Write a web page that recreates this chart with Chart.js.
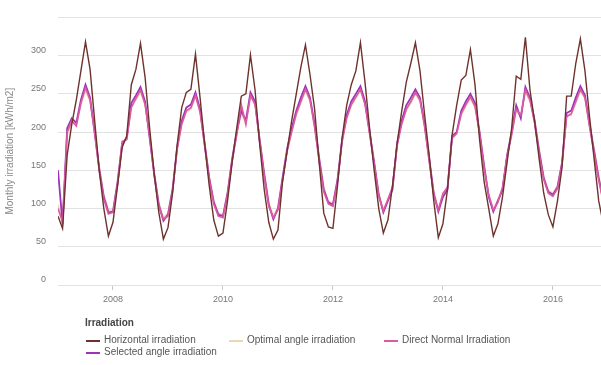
<!DOCTYPE html>
<html>
<head>
<meta charset="utf-8">
<script src="https://cdn.jsdelivr.net/npm/chart.js@4.4.1/dist/chart.umd.min.js"></script>
<style>
  body { margin: 0; background: #fff; }
  #wrap { position: relative; width: 601px; height: 365px; }
  #legend { position: absolute; left: 0; top: 0; width: 601px; height: 365px; pointer-events: none;
    font-family: "Liberation Sans", Arial, sans-serif; font-size: 10px; color: #555; }
  #legend div { position: absolute; white-space: nowrap; }
  #legend .sw { position: absolute; height: 2px; width: 14px; }
  #legend .ttl { font-weight: bold; color: #444; }
</style>
</head>
<body>
<div id="wrap">
  <canvas id="chart" width="601" height="365"></canvas>
  <div id="legend"></div>
</div>
<script>
var years = [2007, 2008, 2009, 2010, 2011, 2012, 2013, 2014, 2015, 2016];
var monthNames = ["Jan", "Feb", "Mar", "Apr", "May", "Jun", "Jul", "Aug", "Sep", "Oct", "Nov", "Dec"];

// one row per year, Jan..Dec, kWh/m2
var horizontal = [
  90, 74, 170, 210, 242, 280, 318, 282, 215, 150, 100, 64,
  82, 130, 180, 195, 262, 282, 316, 272, 205, 145, 95, 60,
  75, 120, 183, 232, 252, 256, 302, 245, 185, 130, 85, 64,
  68, 110, 160, 205, 247, 250, 301, 255, 185, 125, 82, 60,
  72, 135, 175, 215, 250, 285, 314, 275, 230, 160, 94, 76,
  74, 130, 192, 235, 262, 280, 317, 265, 205, 150, 100, 68,
  85, 130, 185, 227, 265, 290, 317, 280, 223, 170, 110, 62,
  80, 125, 196, 235, 268, 274, 308, 262, 190, 135, 100, 64,
  80, 115, 160, 205, 273, 269, 324, 255, 215, 165, 120, 92,
  76, 110, 154, 247, 247, 290, 322, 280, 220, 165, 110, 80
];
var optimal = [
  105, 84, 196, 212, 210, 236, 255, 240, 202, 155, 118, 98,
  98, 130, 182, 195, 235, 242, 252, 238, 196, 148, 108, 88,
  94, 126, 176, 212, 226, 230, 246, 228, 188, 142, 110, 94,
  92, 122, 163, 198, 224, 212, 246, 238, 192, 148, 108, 90,
  102, 138, 176, 202, 222, 238, 254, 240, 212, 168, 128, 110,
  107, 136, 186, 220, 234, 244, 254, 238, 202, 162, 120, 98,
  112, 127, 183, 212, 228, 238, 250, 240, 212, 168, 122, 99,
  117, 127, 193, 198, 222, 234, 244, 232, 202, 158, 118, 98,
  112, 126, 168, 198, 228, 220, 252, 240, 217, 178, 142, 124,
  120, 130, 160, 222, 222, 238, 254, 244, 212, 178, 142, 113
];
var directNormal = [
  100, 82, 200, 215, 208, 238, 258, 242, 198, 150, 112, 93,
  95, 132, 188, 190, 232, 244, 255, 236, 195, 143, 103, 86,
  90, 122, 178, 210, 228, 232, 248, 226, 182, 138, 106, 90,
  88, 118, 162, 196, 236, 210, 248, 236, 188, 143, 103, 88,
  98, 137, 175, 200, 224, 240, 256, 242, 206, 162, 122, 106,
  103, 135, 188, 218, 236, 246, 256, 236, 198, 158, 116, 97,
  112, 128, 182, 210, 230, 240, 252, 242, 207, 162, 118, 98,
  120, 128, 192, 198, 224, 236, 246, 234, 198, 153, 118, 98,
  108, 128, 168, 196, 230, 222, 255, 242, 212, 172, 138, 120,
  116, 126, 158, 220, 224, 240, 256, 245, 207, 172, 137, 108
];
var selected = [
  150, 80, 205, 218, 212, 242, 262, 245, 200, 152, 115, 95,
  96, 135, 185, 192, 238, 248, 259, 240, 192, 145, 105, 84,
  92, 125, 180, 215, 232, 236, 252, 230, 185, 140, 108, 92,
  90, 120, 165, 200, 228, 215, 252, 240, 190, 145, 105, 86,
  100, 140, 178, 205, 228, 245, 260, 245, 210, 165, 125, 108,
  105, 138, 190, 222, 240, 250, 260, 240, 200, 160, 118, 95,
  110, 125, 185, 215, 235, 245, 256, 245, 210, 165, 120, 96,
  115, 125, 195, 200, 228, 240, 250, 238, 200, 155, 115, 96,
  110, 124, 170, 200, 235, 218, 259, 245, 215, 175, 140, 122,
  118, 128, 160, 225, 228, 245, 260, 248, 210, 175, 140, 110
];

var tickLabels = ["2008", "2010", "2012", "2014", "2016"];
var yTicks = [0, 50, 100, 150, 200, 250, 300];

var colors = {
  horizontal: "#6e322c",
  optimal: "#ecd6b4",
  directNormal: "#dc5aa0",
  selected: "#9b34b8"
};

// month labels, "2007-01" ... "2016-12"
var months = [];
years.forEach(function (y) {
  monthNames.forEach(function (m, i) { months.push(y + "-" + (i < 9 ? "0" : "") + (i + 1)); });
});

function points(values) {
  return values.map(function (v, i) { return { x: i, y: v }; });
}
function monthIndex(label) {
  return months.indexOf(label + "-01");
}

var ctx = document.getElementById("chart");
var font = { family: "'Liberation Sans', Arial, sans-serif", size: 9 };

var chart = new Chart(ctx, {
  type: "line",
  data: {
    datasets: [
      { label: "Horizontal irradiation", data: points(horizontal), borderColor: colors.horizontal, borderWidth: 1.4 },
      { label: "Direct Normal Irradiation", data: points(directNormal), borderColor: colors.directNormal, borderWidth: 1.6 },
      { label: "Selected angle irradiation", data: points(selected), borderColor: colors.selected, borderWidth: 1.8 },
      { label: "Optimal angle irradiation", data: points(optimal), borderColor: colors.optimal, borderWidth: 1.6 }
    ]
  },
  options: {
    responsive: false,
    animation: false,
    layout: { padding: { top: 12, bottom: 50, left: 0, right: 0 } },
    elements: { point: { radius: 0 }, line: { tension: 0 } },
    plugins: { legend: { display: false }, tooltip: { enabled: false } },
    scales: {
      x: {
        type: "linear",
        min: 0,
        max: 118.5,
        afterBuildTicks: function (scale) {
          scale.ticks = tickLabels.map(function (t) { return { value: monthIndex(t) }; });
        },
        afterFit: function (scale) { scale.height = 30; },
        ticks: {
          autoSkip: false,
          maxRotation: 0,
          color: "#777",
          font: font,
          padding: 4,
          callback: function (v) { return tickLabels[tickLabels.map(monthIndex).indexOf(v)]; }
        },
        grid: { drawOnChartArea: false, tickLength: 5, color: "#c8c8c8" },
        border: { display: false }
      },
      y: {
        min: 0,
        max: 350,
        afterBuildTicks: function (scale) {
          scale.ticks = yTicks.concat([350]).map(function (v) { return { value: v }; });
        },
        afterFit: function (scale) { scale.width = 58; },
        ticks: {
          color: "#777",
          font: font,
          padding: 12,
          labelOffset: -5,
          callback: function (v) { return yTicks.indexOf(v) >= 0 ? String(v) : ""; }
        },
        title: {
          display: true,
          text: "Monthly irradiation [kWh/m2]",
          color: "#888",
          font: { family: "'Liberation Sans', Arial, sans-serif", size: 10 },
          padding: { top: 4, bottom: 2 }
        },
        grid: { drawTicks: false, color: "#e2e2e2" },
        border: { display: false }
      }
    }
  }
});

// legend as html, same labels and colours as the datasets
var legendItems = [
  { text: "Horizontal irradiation", color: colors.horizontal, x: 86, y: 334 },
  { text: "Optimal angle irradiation", color: colors.optimal, x: 229, y: 334 },
  { text: "Direct Normal Irradiation", color: colors.directNormal, x: 384, y: 334 },
  { text: "Selected angle irradiation", color: colors.selected, x: 86, y: 346 }
];
var legend = document.getElementById("legend");
var html = '<div class="ttl" style="left:85px;top:317px">Irradiation</div>';
legendItems.forEach(function (it) {
  html += '<div class="sw" style="left:' + it.x + 'px;top:' + (it.y + 6) + 'px;background:' + it.color + '"></div>';
  html += '<div style="left:' + (it.x + 18) + 'px;top:' + it.y + 'px">' + it.text + '</div>';
});
legend.innerHTML = html;
</script>
</body>
</html>
